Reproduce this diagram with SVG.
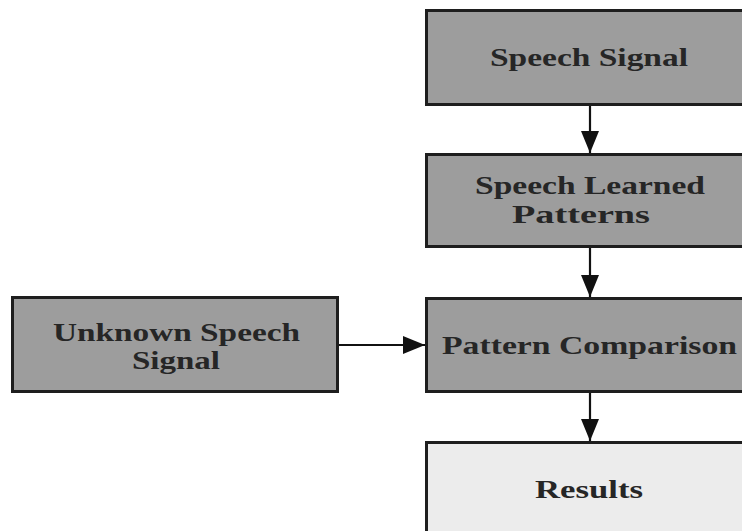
<svg xmlns="http://www.w3.org/2000/svg" width="742" height="531" viewBox="0 0 742 531">
  <style>
    .box { fill: #9d9d9d; stroke: #1e1e1e; stroke-width: 3; }
    .box.light { fill: #ececec; }
    .label { font-family: "Liberation Serif", "Times New Roman", serif; font-weight: bold; font-size: 26px; fill: #262626; }
    .edge { stroke: #111; stroke-width: 2.2; fill: none; }
  </style>
  <defs>
    <marker id="arrow" markerUnits="userSpaceOnUse" markerWidth="22" markerHeight="20" viewBox="0 0 22 20" refX="22" refY="10" orient="auto">
      <path d="M0,1 L22,10 L0,19 Z" fill="#111"/>
    </marker>
  </defs>

  <rect width="742" height="531" fill="#ffffff"/>

  <!-- connectors -->
  <g id="connectors">
    <line class="edge" x1="590" y1="105" x2="590" y2="153" marker-end="url(#arrow)"/>
    <line class="edge" x1="590" y1="247" x2="590" y2="297" marker-end="url(#arrow)"/>
    <line class="edge" x1="590" y1="393" x2="590" y2="441" marker-end="url(#arrow)"/>
    <line class="edge" x1="339" y1="345" x2="425" y2="345" marker-end="url(#arrow)"/>
  </g>

  <g id="speech-signal">
    <rect class="box" x="426.5" y="10.5" width="330" height="94"/>
    <text class="label" x="490" y="66" textLength="198" lengthAdjust="spacingAndGlyphs">Speech Signal</text>
  </g>

  <g id="speech-learned-patterns">
    <rect class="box" x="426.5" y="154.5" width="330" height="92"/>
    <text class="label" x="475" y="194" textLength="230" lengthAdjust="spacingAndGlyphs">Speech Learned</text>
    <text class="label" x="512" y="223" textLength="138" lengthAdjust="spacingAndGlyphs">Patterns</text>
  </g>

  <g id="pattern-comparison">
    <rect class="box" x="426.5" y="298.5" width="330" height="93"/>
    <text class="label" x="442" y="354" textLength="295" lengthAdjust="spacingAndGlyphs">Pattern Comparison</text>
  </g>

  <g id="unknown-speech-signal">
    <rect class="box" x="12.5" y="297.5" width="325" height="94"/>
    <text class="label" x="53" y="341" textLength="247" lengthAdjust="spacingAndGlyphs">Unknown Speech</text>
    <text class="label" x="132" y="369" textLength="88" lengthAdjust="spacingAndGlyphs">Signal</text>
  </g>

  <g id="results">
    <rect class="box light" x="426.5" y="442.5" width="330" height="100"/>
    <text class="label" x="535" y="498" textLength="108" lengthAdjust="spacingAndGlyphs">Results</text>
  </g>
</svg>
